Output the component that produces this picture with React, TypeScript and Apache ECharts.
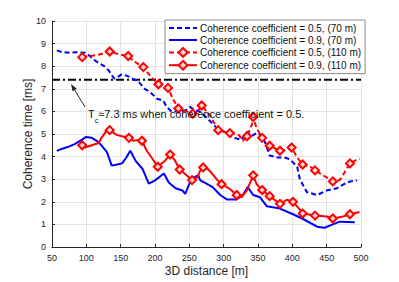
import React, { useEffect, useRef } from "react";
import * as echarts from "echarts";

const xTicks = [50, 100, 150, 200, 250, 300, 350, 400, 450, 500];
const yTicks = [0, 1, 2, 3, 4, 5, 6, 7, 8, 9, 10];

const seriesNames = [
  "Coherence coefficient = 0.5, (70 m)",
  "Coherence coefficient = 0.9, (70 m)",
  "Coherence coefficient = 0.5, (110 m)",
  "Coherence coefficient = 0.9, (110 m)",
];

// 0.5, 70 m (blue dashed)
const blueDashX = [57, 65, 75, 85, 98, 105, 115, 126, 133, 137, 141, 147, 152, 161, 167, 175, 185, 193, 203, 212, 217, 224, 235, 245, 251, 258, 265, 276, 290, 305, 313, 319, 326, 334, 340, 348, 357, 363, 367, 378, 390, 397, 407, 411, 421, 436, 450, 465, 480, 494];
const blueDashY = [8.7, 8.62, 8.6, 8.62, 8.6, 8.45, 8.2, 8.0, 7.8, 7.6, 7.45, 7.55, 7.65, 7.55, 7.45, 7.35, 7.0, 6.85, 6.56, 6.48, 6.2, 6.0, 6.0, 6.05, 6.2, 6.05, 6.0, 5.7, 5.26, 5.04, 4.85, 4.8, 4.74, 5.1, 4.9, 5.04, 4.9, 4.4, 4.05, 3.96, 3.95, 3.87, 3.55, 3.0, 2.43, 2.3, 2.5, 2.6, 2.87, 2.95];

// 0.9, 70 m (blue solid)
const blueSolidX = [57, 65, 75, 83, 94, 99, 108, 115, 122, 130, 137, 145, 152, 158, 164, 172, 182, 191, 200, 213, 220, 230, 240, 244, 251, 258, 263, 266, 275, 284, 295, 305, 319, 328, 335, 343, 353, 363, 382, 401, 415, 436, 447, 459, 469, 491];
const blueSolidY = [4.25, 4.35, 4.45, 4.55, 4.75, 4.87, 4.83, 4.7, 4.5, 4.2, 3.6, 3.65, 3.7, 3.95, 4.26, 3.8, 3.45, 2.8, 2.95, 3.25, 2.85, 2.6, 2.5, 2.35, 2.87, 3.1, 3.17, 2.95, 2.8, 2.65, 2.3, 2.1, 2.1, 2.3, 2.65, 2.3, 2.2, 1.8, 1.7, 1.45, 1.25, 0.9, 0.85, 1.0, 1.12, 1.1];

// 0.5, 110 m (red dashed, diamonds)
const redDashX = [94, 105, 115, 125, 134, 148, 161, 170, 183, 193, 205, 212, 219, 226, 234, 246, 255, 262, 268, 280, 292, 300, 309, 322, 328, 334, 341, 343, 348, 356, 367, 382, 390, 399, 407, 415, 428, 433, 445, 459, 469, 474, 484, 494, 498];
const redDashY = [8.4, 8.45, 8.5, 8.55, 8.65, 8.52, 8.45, 8.2, 7.96, 7.57, 7.2, 7.13, 7.04, 6.56, 6.13, 6.0, 5.9, 6.0, 6.26, 5.83, 5.17, 5.1, 5.04, 4.96, 4.7, 4.9, 5.4, 5.75, 5.26, 4.83, 4.48, 4.26, 4.3, 4.4, 3.96, 3.65, 3.52, 3.39, 3.17, 2.9, 2.96, 3.2, 3.7, 3.87, 3.9];
const redDashMarks = [94, 134, 161, 183, 205, 219, 234, 255, 268, 292, 309, 334, 343, 356, 367, 382, 399, 415, 433, 459, 484];

// 0.9, 110 m (red solid, diamonds)
const redSolidX = [94, 98, 108, 118, 122, 129, 134, 144, 152, 162, 169, 176, 181, 188, 195, 204, 215, 222, 229, 236, 246, 254, 262, 266, 270, 278, 291, 297, 309, 319, 326, 334, 343, 348, 356, 367, 382, 392, 401, 411, 415, 433, 450, 459, 474, 484, 498];
const redSolidY = [4.5, 4.4, 4.5, 4.6, 4.83, 5.13, 5.17, 4.96, 4.9, 4.83, 4.7, 4.74, 4.7, 4.26, 3.96, 3.55, 3.83, 4.09, 3.83, 3.43, 3.17, 2.96, 3.09, 3.39, 3.52, 3.43, 2.96, 2.78, 2.57, 2.3, 2.2, 2.52, 3.17, 2.78, 2.52, 2.25, 1.91, 2.09, 2.0, 1.65, 1.48, 1.39, 1.35, 1.26, 1.35, 1.45, 1.55];
const redSolidMarks = [94, 134, 162, 181, 204, 222, 236, 254, 270, 297, 319, 343, 356, 367, 382, 401, 415, 433, 459, 484];

const tcValue = 7.4;
const tcRange = [50, 500];

const FONT = "'Liberation Sans', Arial, Helvetica, sans-serif";

function pairs(xs: number[], ys: number[]) {
  return xs.map((x, i) => [x, ys[i]]);
}
function marked(xs: number[], ys: number[], marks: number[]) {
  return xs.map((x, i) =>
    marks.includes(x) ? { value: [x, ys[i]] } : { value: [x, ys[i]], symbol: "none" }
  );
}

export default function App() {
  const ref = useRef<HTMLDivElement>(null);
  useEffect(() => {
    if (!ref.current) return;
    const chart = echarts.init(ref.current, undefined, { renderer: "svg" });

    // arrow geometry (annotation)
    const tail = [85, 107];
    const tip = [71, 84];
    const dx = tip[0] - tail[0];
    const dy = tip[1] - tail[1];
    const len = Math.sqrt(dx * dx + dy * dy);
    const ux = dx / len, uy = dy / len;
    const hl = 7, hw = 2.5;
    const bx = tip[0] - ux * hl, by = tip[1] - uy * hl;
    const px = -uy, py = ux;

    const redMarkerStyle = {
      color: "#ffd6d6",
      borderColor: "#ff0000",
      borderWidth: 2,
    };

    chart.setOption({
      animation: false,
      textStyle: { fontFamily: FONT },
      grid: { left: 52, right: 38, top: 21, bottom: 31, containLabel: false },
      legend: {
        data: [
          { name: seriesNames[0], itemStyle: { opacity: 0 } },
          { name: seriesNames[1], itemStyle: { opacity: 0 } },
          { name: seriesNames[2] },
          { name: seriesNames[3] },
        ],
        orient: "vertical",
        left: 165,
        top: 20,
        padding: [3, 4, 3, 3],
        itemGap: 2,
        itemWidth: 28,
        itemHeight: 11,
        backgroundColor: "#ffffff",
        borderColor: "#8c8c8c",
        borderWidth: 1,
        textStyle: { fontSize: 10, color: "#111", fontFamily: FONT, padding: [0, 0, 0, -2] },
      },
      xAxis: {
        type: "value",
        min: xTicks[0],
        max: xTicks[xTicks.length - 1],
        interval: 50,
        name: "3D distance [m]",
        nameLocation: "middle",
        nameGap: 18,
        nameMoveOverlap: false,
        nameTextStyle: { fontSize: 12, color: "#262626", fontFamily: FONT },
        axisLine: { show: true, lineStyle: { color: "#262626", width: 1 } },
        axisTick: { show: true, inside: true, length: 3, lineStyle: { color: "#262626" } },
        axisLabel: { fontSize: 9, color: "#262626", margin: 6, fontFamily: FONT },
        splitLine: { show: true, lineStyle: { color: "#e3e3e3", width: 1 } },
      },
      yAxis: {
        type: "value",
        min: yTicks[0],
        max: yTicks[yTicks.length - 1],
        interval: 1,
        name: "Coherence time [ms]",
        nameLocation: "middle",
        nameGap: 18,
        nameMoveOverlap: false,
        nameTextStyle: { fontSize: 12, color: "#262626", fontFamily: FONT },
        axisLine: { show: true, lineStyle: { color: "#262626", width: 1 } },
        axisTick: { show: true, inside: true, length: 3, lineStyle: { color: "#262626" } },
        axisLabel: { fontSize: 9, color: "#262626", margin: 6, fontFamily: FONT },
        splitLine: { show: true, lineStyle: { color: "#e3e3e3", width: 1 } },
      },
      series: [
        {
          type: "line",
          name: "Tc",
          data: [[tcRange[0], tcValue], [tcRange[1], tcValue]],
          symbol: "none",
          silent: true,
          lineStyle: { color: "#000000", width: 2, type: [8, 3, 2, 3] },
          z: 1,
        },
        {
          type: "line",
          name: seriesNames[0],
          data: pairs(blueDashX, blueDashY),
          symbol: "none",
          color: "#0000ff",
          lineStyle: { color: "#0000ff", width: 2, type: [5, 3] },
          z: 2,
        },
        {
          type: "line",
          name: seriesNames[1],
          data: pairs(blueSolidX, blueSolidY),
          symbol: "none",
          color: "#0000ff",
          lineStyle: { color: "#0000ff", width: 2 },
          z: 2,
        },
        {
          type: "line",
          name: seriesNames[2],
          data: marked(redDashX, redDashY, redDashMarks),
          symbol: "diamond",
          symbolSize: 8,
          showSymbol: true,
          color: "#ff0000",
          lineStyle: { color: "#ff0000", width: 2, type: [5, 3] },
          itemStyle: redMarkerStyle,
          z: 3,
        },
        {
          type: "line",
          name: seriesNames[3],
          data: marked(redSolidX, redSolidY, redSolidMarks),
          symbol: "diamond",
          symbolSize: 8,
          showSymbol: true,
          color: "#ff0000",
          lineStyle: { color: "#ff0000", width: 2 },
          itemStyle: redMarkerStyle,
          z: 3,
        },
      ],
      graphic: [
        {
          type: "line",
          shape: { x1: tail[0], y1: tail[1], x2: bx, y2: by },
          style: { stroke: "#262626", lineWidth: 1 },
          z: 10,
        },
        {
          type: "polygon",
          shape: {
            points: [
              [tip[0], tip[1]],
              [bx + px * hw, by + py * hw],
              [bx - px * hw, by - py * hw],
            ],
          },
          style: { fill: "#262626" },
          z: 10,
        },
        {
          type: "text",
          x: 88,
          y: 114,
          z: 10,
          style: {
            text: "{a|T}{s|c}{a|\u22487.3 ms when coherence coefficient = 0.5.}",
            fill: "#111",
            verticalAlign: "middle",
            align: "left",
            font: `11px ${FONT}`,
            rich: {
              a: { fontSize: 11, fontFamily: FONT, fill: "#111", lineHeight: 14, verticalAlign: "middle" },
              s: { fontSize: 7, fontFamily: FONT, fill: "#111", lineHeight: 14, verticalAlign: "bottom", padding: [0, 0, -3, 0] },
            },
          },
        },
      ],
    });
    return () => chart.dispose();
  }, []);

  return (
    <div
      ref={ref}
      style={{ position: "fixed", left: 0, top: 0, width: 399, height: 282, background: "#fff" }}
    />
  );
}
